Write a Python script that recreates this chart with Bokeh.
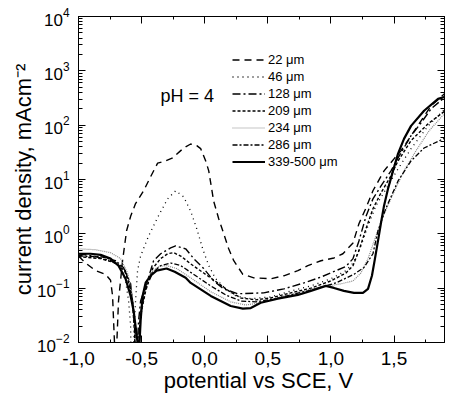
import math
from bokeh.plotting import figure
from bokeh.models import (LinearAxis, LogAxis, FixedTicker, Legend, LegendItem,
                          Label, Range1d, CustomJSTickFormatter)
from bokeh.embed import file_html
from bokeh.resources import INLINE

# ---------------- data (potential V vs SCE, current density mA/cm2) -------------
v_22 = [-1.00, -0.944, -0.865, -0.786, -0.746, -0.73, -0.722, -0.714, -0.706, -0.698,
        -0.683, -0.651, -0.619, -0.587, -0.548, -0.484, -0.429, -0.373, -0.31, -0.254,
        -0.19, -0.151, -0.111, -0.063, -0.032, 0.008, 0.032, 0.071, 0.111, 0.151,
        0.19, 0.23, 0.302, 0.389, 0.524, 0.627, 0.738, 0.817, 0.921, 1.024,
        1.095, 1.175, 1.222, 1.278, 1.333, 1.421, 1.5, 1.556, 1.635, 1.714, 1.794, 1.9]
j_22 = [0.39, 0.29, 0.21, 0.18, 0.14, 0.072, 0.025, 0.009, 0.001, 0.008,
        0.058, 0.32, 1.14, 2.1, 3.6, 6.2, 11.2, 20, 22, 25,
        34, 40, 45, 42, 37, 22, 14.4, 4.0, 1.9, 1.0,
        0.53, 0.32, 0.18, 0.155, 0.149, 0.169, 0.21, 0.26, 0.32, 0.36,
        0.43, 0.68, 1.53, 3.0, 6.2, 14.4, 24, 34, 64, 120, 227, 378]

v_46 = [-1.0, -0.865, -0.746, -0.667, -0.627, -0.603, -0.587, -0.58, -0.563, -0.548,
        -0.532, -0.508, -0.444, -0.373, -0.294, -0.23, -0.167, -0.111, -0.063, -0.016,
        0.032, 0.087, 0.167, 0.246, 0.365, 0.524, 0.683, 0.841, 1.0, 1.119,
        1.175, 1.238, 1.294, 1.357, 1.437, 1.532, 1.635, 1.77, 1.905]
j_46 = [0.38, 0.36, 0.32, 0.25, 0.136, 0.058, 0.020, 0.001, 0.01, 0.058,
        0.21, 0.39, 0.92, 2.0, 4.4, 6.2, 4.8, 2.6, 1.24, 0.53,
        0.26, 0.149, 0.097, 0.072, 0.064, 0.069, 0.089, 0.11, 0.149, 0.21,
        0.29, 0.60, 1.4, 3.3, 6.7, 15.7, 37, 97, 200]

v_128 = [-1.0, -0.881, -0.746, -0.643, -0.587, -0.563, -0.548, -0.54, -0.532, -0.524,
         -0.508, -0.452, -0.405, -0.349, -0.27, -0.23, -0.151, -0.087, -0.008, 0.071,
         0.151, 0.262, 0.468, 0.627, 0.786, 0.921, 1.04, 1.119, 1.175, 1.222,
         1.278, 1.333, 1.397, 1.476, 1.532, 1.635, 1.714, 1.794, 1.905]
j_128 = [0.43, 0.39, 0.32, 0.24, 0.12, 0.038, 0.012, 0.001, 0.01, 0.025,
         0.058, 0.14, 0.32, 0.43, 0.55, 0.60, 0.53, 0.35, 0.23, 0.136,
         0.097, 0.079, 0.082, 0.097, 0.125, 0.16, 0.21, 0.25, 0.35, 0.74,
         2.1, 4.4, 7.6, 14.4, 25, 64, 110, 200, 330]

v_209 = [-1.0, -0.825, -0.706, -0.635, -0.595, -0.571, -0.556, -0.544, -0.524, -0.508,
         -0.468, -0.413, -0.349, -0.294, -0.246, -0.19, -0.111, -0.008, 0.103, 0.19,
         0.286, 0.405, 0.524, 0.683, 0.841, 1.0, 1.119, 1.175, 1.222, 1.278,
         1.333, 1.397, 1.476, 1.532, 1.635, 1.77, 1.905]
j_209 = [0.38, 0.35, 0.29, 0.21, 0.11, 0.047, 0.016, 0.001, 0.009, 0.031,
         0.089, 0.23, 0.35, 0.43, 0.45, 0.39, 0.28, 0.19, 0.125, 0.089,
         0.066, 0.061, 0.066, 0.082, 0.10, 0.136, 0.19, 0.26, 0.49, 1.24,
         2.9, 5.7, 11.7, 22, 52, 106, 184]

v_234 = [-1.0, -0.865, -0.746, -0.667, -0.611, -0.579, -0.563, -0.548, -0.54, -0.516,
         -0.5, -0.476, -0.429, -0.365, -0.302, -0.222, -0.111, 0.048, 0.206, 0.325,
         0.444, 0.603, 0.762, 0.921, 1.079, 1.175, 1.238, 1.294, 1.349, 1.413,
         1.492, 1.579, 1.675, 1.778, 1.905]
j_234 = [0.53, 0.51, 0.45, 0.35, 0.19, 0.089, 0.038, 0.013, 0.001, 0.011,
         0.038, 0.11, 0.19, 0.25, 0.26, 0.23, 0.155, 0.086, 0.056, 0.049,
         0.054, 0.069, 0.086, 0.106, 0.12, 0.136, 0.19, 0.35, 0.81, 2.1,
         5.4, 14.4, 34, 79, 169]

v_286 = [-1.0, -0.825, -0.706, -0.635, -0.595, -0.571, -0.556, -0.546, -0.524, -0.508,
         -0.468, -0.413, -0.349, -0.27, -0.19, -0.071, 0.048, 0.167, 0.286, 0.405,
         0.563, 0.722, 0.881, 1.04, 1.183, 1.262, 1.333, 1.373, 1.437, 1.532,
         1.635, 1.738, 1.905]
j_286 = [0.39, 0.38, 0.32, 0.23, 0.12, 0.058, 0.020, 0.001, 0.01, 0.035,
         0.097, 0.19, 0.26, 0.29, 0.26, 0.169, 0.11, 0.075, 0.058, 0.056,
         0.064, 0.079, 0.097, 0.125, 0.18, 0.24, 0.43, 1.14, 3.0, 9.4,
         22, 38, 58]

v_339 = [-1.0, -0.905, -0.825, -0.746, -0.683, -0.627, -0.587, -0.563, -0.548, -0.532,
         -0.525, -0.516, -0.508, -0.492, -0.468, -0.429, -0.381, -0.302, -0.238, -0.151,
         -0.111, 0.048, 0.206, 0.302, 0.365, 0.444, 0.579, 0.738, 0.841, 0.96,
         1.024, 1.103, 1.183, 1.254, 1.294, 1.325, 1.349, 1.373, 1.397, 1.421,
         1.452, 1.492, 1.532, 1.579, 1.635, 1.738, 1.849, 1.905]
j_339 = [0.43, 0.43, 0.41, 0.35, 0.26, 0.149, 0.072, 0.038, 0.020, 0.01,
         0.001, 0.01, 0.025, 0.072, 0.126, 0.169, 0.21, 0.23, 0.2, 0.155,
         0.125, 0.072, 0.047, 0.042, 0.043, 0.054, 0.064, 0.075, 0.089, 0.11,
         0.101, 0.089, 0.082, 0.082, 0.097, 0.169, 0.35, 0.74, 1.6, 3.3,
         6.7, 14.4, 30, 56, 97, 184, 305, 333]

series_labels = ["22 \u03bcm", "46 \u03bcm", "128 \u03bcm", "209 \u03bcm",
                 "234 \u03bcm", "286 \u03bcm", "339-500 \u03bcm"]

x_ticks = [-1.0, -0.5, 0.0, 0.5, 1.0, 1.5]
x_tick_labels = ["-1,0", "-0,5", "0,0", "0,5", "1,0", "1,5"]
x_minor = [-0.75, -0.25, 0.25, 0.75, 1.25, 1.75]
y_ticks = [1e-2, 1e-1, 1e0, 1e1, 1e2, 1e3, 1e4]

x_title = "potential  vs SCE, V"
y_title = "current density, mAcm\u207b\u00b2"

FONT = "Liberation Sans"

# ---------------- figure -------------------------------------------------------
p = figure(width=462, height=397, x_axis_type="linear", y_axis_type="log",
           x_range=Range1d(-1.0, 1.9), y_range=Range1d(1e-2, 1e4),
           output_backend="svg", toolbar_location=None,
           min_border_left=78, min_border_right=18, min_border_top=16,
           min_border_bottom=55)
p.xgrid.visible = False
p.ygrid.visible = False
p.outline_line_color = "black"
p.background_fill_color = "white"
p.border_fill_color = "white"

y_minor = [k * 10.0 ** e for e in range(-2, 4) for k in range(2, 10)]
blank = CustomJSTickFormatter(code="return ''")

def style_common(ax, major_in, minor_in):
    ax.major_tick_in = major_in
    ax.major_tick_out = 0
    ax.minor_tick_in = minor_in
    ax.minor_tick_out = 0
    ax.axis_line_color = "black"
    ax.major_tick_line_color = "black"
    ax.minor_tick_line_color = "black"

def hide_labels(ax):
    ax.formatter = blank
    ax.major_label_text_font_size = "1px"
    ax.major_label_standoff = 0
    ax.axis_label = None

bottom_ax = p.xaxis[0]
bottom_ax.ticker = FixedTicker(ticks=x_ticks, minor_ticks=x_minor)
style_common(bottom_ax, 7, 3)
bottom_ax.major_label_overrides = dict(zip(x_ticks, x_tick_labels))
bottom_ax.major_label_text_font = FONT
bottom_ax.major_label_text_font_size = "19px"
bottom_ax.major_label_text_color = "black"
bottom_ax.major_label_standoff = 9
bottom_ax.axis_label = x_title
bottom_ax.axis_label_text_font = FONT
bottom_ax.axis_label_text_font_size = "22px"
bottom_ax.axis_label_text_font_style = "normal"
bottom_ax.axis_label_text_color = "black"
bottom_ax.axis_label_standoff = 0

left_ax = p.yaxis[0]
left_ax.ticker = FixedTicker(ticks=y_ticks, minor_ticks=y_minor)
style_common(left_ax, 7, 4)
left_ax.major_label_text_font = FONT
left_ax.major_label_text_font_size = "17px"
left_ax.major_label_text_color = "black"
left_ax.major_label_standoff = 9
left_ax.axis_label = y_title
left_ax.axis_label_text_font = FONT
left_ax.axis_label_text_font_size = "22px"
left_ax.axis_label_text_font_style = "normal"
left_ax.axis_label_text_color = "black"
left_ax.axis_label_standoff = -2

top_ax = LinearAxis(ticker=FixedTicker(ticks=x_ticks, minor_ticks=x_minor))
style_common(top_ax, 7, 3)
hide_labels(top_ax)
p.add_layout(top_ax, "above")

right_ax = LogAxis(ticker=FixedTicker(ticks=y_ticks, minor_ticks=y_minor))
style_common(right_ax, 7, 4)
hide_labels(right_ax)
p.add_layout(right_ax, "right")

# ---------------- curves ---------------------------------------------------------
series = [
    (v_22, j_22, dict(line_color="black", line_width=1.4, line_dash="7 5")),
    (v_46, j_46, dict(line_color="black", line_width=1.3, line_dash="1 4")),
    (v_128, j_128, dict(line_color="black", line_width=1.4, line_dash="8 3 2 3")),
    (v_209, j_209, dict(line_color="black", line_width=1.4, line_dash="3 2")),
    (v_234, j_234, dict(line_color="#8a8a8a", line_width=1.2, line_dash="1 1")),
    (v_286, j_286, dict(line_color="black", line_width=1.3, line_dash="5 2 2 2")),
    (v_339, j_339, dict(line_color="black", line_width=2.2)),
]
items = []
for (vx, jy, st), lab in zip(series, series_labels):
    r = p.line(vx, jy, **st)
    items.append(LegendItem(label=lab, renderers=[r]))

legend = Legend(items=items, location=(154, 172), border_line_alpha=0,
                background_fill_alpha=0, glyph_width=33, glyph_height=17,
                label_height=17, label_standoff=3, spacing=0, padding=0, margin=0,
                label_text_font=FONT, label_text_font_size="13px",
                label_text_color="black")
p.add_layout(legend)

p.add_layout(Label(x=82, y=247, x_units="screen", y_units="screen", text="pH = 4",
                   text_font=FONT, text_font_size="18px", text_color="black",
                   text_baseline="alphabetic", text_align="left"))

open("out.html", "w").write(file_html(p, INLINE))
